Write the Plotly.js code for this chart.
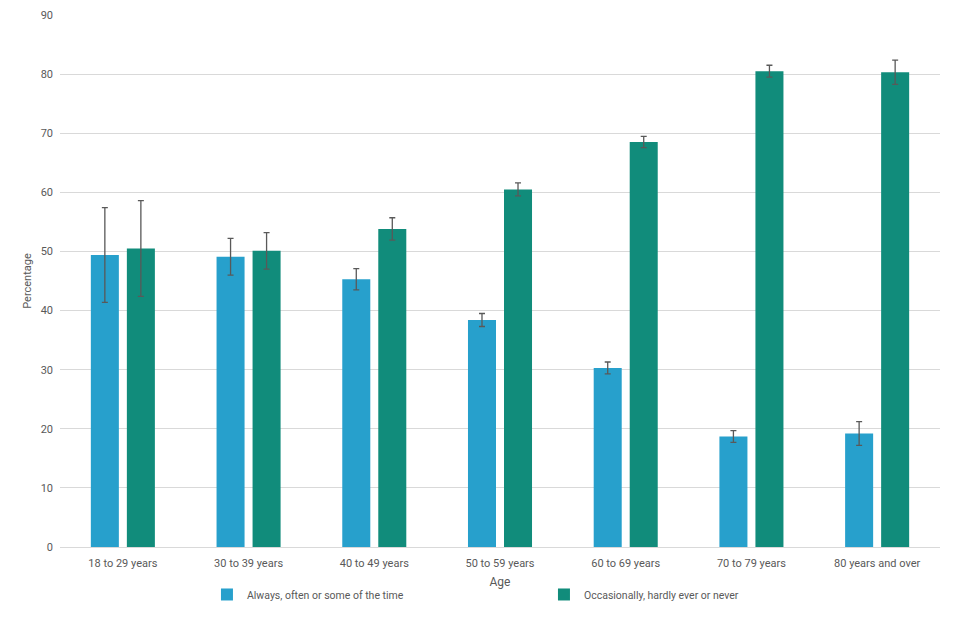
<!DOCTYPE html>
<html>
<head>
<meta charset="utf-8">
<script src="https://cdn.plot.ly/plotly-3.0.1.min.js"></script>
<style>html,body{margin:0;padding:0;background:#fff;}#chart{width:960px;height:640px;}</style>
</head>
<body>
<div id="chart"></div>
<script>
const categories = ["18 to 29 years", "30 to 39 years", "40 to 49 years", "50 to 59 years", "60 to 69 years", "70 to 79 years", "80 years and over"];
const seriesNames = ["Always, often or some of the time", "Occasionally, hardly ever or never"];
const alwaysValues = [49.4, 49.1, 45.3, 38.4, 30.3, 18.7, 19.2];
const alwaysErrors = [8.0, 3.1, 1.8, 1.1, 1.0, 1.0, 2.0];
const occasionallyValues = [50.5, 50.1, 53.8, 60.5, 68.5, 80.5, 80.3];
const occasionallyErrors = [8.1, 3.1, 1.9, 1.1, 0.95, 1.0, 2.05];
const yTicks = [0, 10, 20, 30, 40, 50, 60, 70, 80, 90];

const font = "Roboto, 'Liberation Sans', Arial, sans-serif";
const errStyle = {type: 'data', visible: true, color: '#595959', thickness: 1.3, width: 3};

const traces = [
  {type: 'bar', name: seriesNames[0], x: categories, y: alwaysValues,
   marker: {color: '#27A0CC'},
   error_y: Object.assign({array: alwaysErrors}, errStyle), hoverinfo: 'skip'},
  {type: 'bar', name: seriesNames[1], x: categories, y: occasionallyValues,
   marker: {color: '#118C7B'},
   error_y: Object.assign({array: occasionallyErrors}, errStyle), hoverinfo: 'skip'}
];

const layout = {
  width: 960, height: 640,
  margin: {l: 60, r: 20, t: 14.5, b: 92.5, autoexpand: false},
  paper_bgcolor: '#ffffff', plot_bgcolor: '#ffffff',
  font: {family: font, size: 11, color: '#595959'},
  barmode: 'group', bargap: 0.427, bargroupgap: 0.222,
  xaxis: {
    type: 'category', showgrid: false, showline: true, linecolor: '#d9d9d9', linewidth: 1,
    ticks: '', ticklabelstandoff: 6, automargin: false,
    tickfont: {family: font, size: 11, color: '#595959'},
    title: {text: 'Age', font: {family: font, size: 12, color: '#595959'}, standoff: 8}
  },
  yaxis: {
    range: [0, 90], tickvals: yTicks, ticktext: yTicks.map(String),
    showgrid: true, gridcolor: '#d9d9d9', gridwidth: 1, zeroline: false,
    showline: false, ticks: '', ticklabelstandoff: 6, automargin: false,
    tickfont: {family: font, size: 11, color: '#595959'},
    title: {text: 'Percentage', font: {family: font, size: 11, color: '#595959'}, standoff: 6}
  },
  showlegend: true,
  legend: {
    orientation: 'h', x: 0.167, xanchor: 'left', y: -0.062, yanchor: 'top',
    entrywidth: 292, entrywidthmode: 'pixels', itemwidth: 30,
    font: {family: font, size: 10.5, color: '#595959'}, bgcolor: 'rgba(0,0,0,0)'
  }
};

Plotly.newPlot('chart', traces, layout, {displayModeBar: false, staticPlot: true});
</script>
</body>
</html>
